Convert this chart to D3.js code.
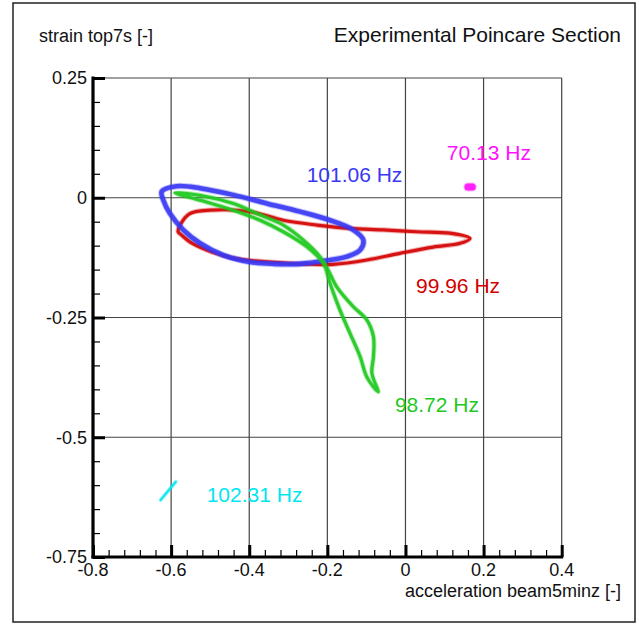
<!DOCTYPE html>
<html>
<head>
<meta charset="utf-8">
<script src="https://cdn.jsdelivr.net/npm/d3@7/dist/d3.min.js"></script>
<style>
  html, body { margin: 0; padding: 0; background: #fff; }
  svg { display: block; }
  text { font-family: "Liberation Sans", Arial, sans-serif; }
</style>
</head>
<body>
<script>
// Poincare section: strain (top7s) against acceleration (beam5minz),
// one trace per excitation frequency.

const xTicks = [-0.8, -0.6, -0.4, -0.2, 0, 0.2, 0.4];
const xTickLabels = ["-0.8", "-0.6", "-0.4", "-0.2", "0", "0.2", "0.4"];
const yTicks = [0.25, 0, -0.25, -0.5, -0.75];
const yTickLabels = ["0.25", "0", "-0.25", "-0.5", "-0.75"];

// 99.96 Hz — wide loop
const red9996 = [
  [-0.577, -0.057], [-0.552, -0.033], [-0.500, -0.026], [-0.398, -0.029],
  [-0.313, -0.047], [-0.227, -0.057], [-0.142, -0.064], [-0.057, -0.067],
  [0.029, -0.071], [0.114, -0.074], [0.165, -0.085], [0.140, -0.095],
  [0.071, -0.103], [-0.014, -0.116], [-0.099, -0.130], [-0.185, -0.139],
  [-0.270, -0.138], [-0.355, -0.134], [-0.441, -0.126], [-0.509, -0.109],
  [-0.552, -0.092], [-0.573, -0.078], [-0.582, -0.071]
];

// 101.06 Hz — tilted loop
const blue10106 = [
  [-0.624, 0.013], [-0.586, 0.024], [-0.526, 0.020], [-0.441, 0.006],
  [-0.355, -0.012], [-0.270, -0.029], [-0.193, -0.047], [-0.134, -0.067],
  [-0.108, -0.088], [-0.116, -0.109], [-0.150, -0.123], [-0.202, -0.131],
  [-0.270, -0.138], [-0.338, -0.138], [-0.398, -0.134], [-0.466, -0.120],
  [-0.526, -0.095], [-0.569, -0.067], [-0.603, -0.033], [-0.620, -0.005]
];

// 98.72 Hz — narrow figure-eight
const green9872 = [
  [-0.070, -0.405], [-0.099, -0.374], [-0.116, -0.332], [-0.142, -0.283],
  [-0.168, -0.234], [-0.193, -0.179], [-0.210, -0.137], [-0.253, -0.102],
  [-0.313, -0.071], [-0.372, -0.047], [-0.441, -0.026], [-0.526, -0.005],
  [-0.590, 0.010], [-0.526, 0.005], [-0.441, -0.012], [-0.372, -0.036],
  [-0.313, -0.057], [-0.262, -0.088], [-0.219, -0.123], [-0.198, -0.151],
  [-0.176, -0.186], [-0.134, -0.227], [-0.099, -0.255], [-0.082, -0.290],
  [-0.082, -0.332], [-0.086, -0.366]
];

// 102.31 Hz — short segment
const cyan10231 = [[-0.627, -0.631], [-0.588, -0.593]];

// 70.13 Hz — single cluster
const magenta7013 = [[0.160, 0.0225], [0.171, 0.0225]];

const series = [
  { name: "99.96 Hz", pts: red9996, color: "#d40000", width: 3.2, closed: true, label: [0.027, -0.199] },
  { name: "101.06 Hz", pts: blue10106, color: "#3838f4", width: 4.6, closed: true, label: [-0.253, 0.033] },
  { name: "98.72 Hz", pts: green9872, color: "#1ec81e", width: 3.2, closed: true, label: [-0.027, -0.447] },
  { name: "102.31 Hz", pts: cyan10231, color: "#00e6f0", width: 2.2, closed: false, label: [-0.509, -0.635] },
  { name: "70.13 Hz", pts: magenta7013, color: "#ff10ff", width: 7, closed: false, label: [0.106, 0.079] }
];

const W = 639, H = 625;
const svg = d3.select("body").append("svg").attr("width", W).attr("height", H);

// outer frame
svg.append("rect")
  .attr("x", 13).attr("y", 3).attr("width", 622).attr("height", 619)
  .attr("fill", "none").attr("stroke", "#222").attr("stroke-width", 1.5);

const x = d3.scaleLinear().domain([-0.8, 0.4]).range([93, 561.7]);
const y = d3.scaleLinear().domain([-0.75, 0.25]).range([557, 78]);

// grid
const grid = svg.append("g").attr("stroke", "#444").attr("stroke-width", 1.2);
grid.selectAll("line.v").data(xTicks.slice(1)).join("line")
  .attr("x1", d => x(d)).attr("x2", d => x(d))
  .attr("y1", y(-0.75)).attr("y2", y(0.25));
grid.selectAll("line.h").data(yTicks.slice(0, -1)).join("line")
  .attr("x1", x(-0.8)).attr("x2", x(0.4))
  .attr("y1", d => y(d)).attr("y2", d => y(d));

// traces
const plot = svg.append("g");
series.forEach(s => {
  const line = d3.line().x(d => x(d[0])).y(d => y(d[1]))
    .curve(s.closed ? d3.curveCatmullRomClosed.alpha(0.5) : d3.curveLinear);
  // soft halo for the scatter spread, then the dense core
  plot.append("path").attr("d", line(s.pts))
    .attr("fill", "none").attr("stroke", s.color)
    .attr("stroke-width", s.width + 2).attr("stroke-opacity", 0.3)
    .attr("stroke-linecap", "round").attr("stroke-linejoin", "round");
  plot.append("path").attr("d", line(s.pts))
    .attr("fill", "none").attr("stroke", s.color)
    .attr("stroke-width", s.width).attr("stroke-opacity", 0.9)
    .attr("stroke-linecap", "round").attr("stroke-linejoin", "round");
});

// frequency labels
svg.append("g").selectAll("text").data(series).join("text")
  .attr("x", d => x(d.label[0])).attr("y", d => y(d.label[1]))
  .attr("fill", d => d.color).attr("font-size", 21)
  .text(d => d.name);

// axes: ticks point into the plot
const xMinor = d3.range(-0.8, 0.4001, 0.04).map(v => +v.toFixed(2));
const yMinor = d3.range(-0.75, 0.2501, 0.05).map(v => +v.toFixed(2));

const xAxisMinor = d3.axisTop(x).tickValues(xMinor).tickSize(7).tickFormat("");
svg.append("g").attr("transform", `translate(0,${y(-0.75)})`).call(xAxisMinor)
  .call(g => g.select(".domain").remove())
  .call(g => g.selectAll("line").attr("stroke", "#000").attr("stroke-width", 1.2));
const xAxisMajor = d3.axisTop(x).tickValues(xTicks).tickSize(12).tickFormat("");
svg.append("g").attr("transform", `translate(0,${y(-0.75)})`).call(xAxisMajor)
  .call(g => g.select(".domain").remove())
  .call(g => g.selectAll("line").attr("stroke", "#000").attr("stroke-width", 3));

const yAxisMinor = d3.axisRight(y).tickValues(yMinor).tickSize(7).tickFormat("");
svg.append("g").attr("transform", `translate(${x(-0.8)},0)`).call(yAxisMinor)
  .call(g => g.select(".domain").remove())
  .call(g => g.selectAll("line").attr("stroke", "#000").attr("stroke-width", 1.2));
const yAxisMajor = d3.axisRight(y).tickValues(yTicks).tickSize(12).tickFormat("");
svg.append("g").attr("transform", `translate(${x(-0.8)},0)`).call(yAxisMajor)
  .call(g => g.select(".domain").remove())
  .call(g => g.selectAll("line").attr("stroke", "#000").attr("stroke-width", 3));

// thick axis lines
svg.append("line").attr("x1", x(-0.8)).attr("x2", x(-0.8))
  .attr("y1", y(0.25) - 1.5).attr("y2", y(-0.75) + 1.5)
  .attr("stroke", "#000").attr("stroke-width", 3.2);
svg.append("line").attr("x1", x(-0.8) - 1.5).attr("x2", x(0.4) + 1.5)
  .attr("y1", y(-0.75)).attr("y2", y(-0.75))
  .attr("stroke", "#000").attr("stroke-width", 3.2);

// tick labels
svg.append("g").selectAll("text").data(xTicks).join("text")
  .attr("x", d => x(d)).attr("y", 576)
  .attr("text-anchor", "middle").attr("font-size", 18).attr("fill", "#111")
  .text((d, i) => xTickLabels[i]);
svg.append("g").selectAll("text").data(yTicks).join("text")
  .attr("x", 87).attr("y", d => y(d)).attr("dy", "0.36em")
  .attr("text-anchor", "end").attr("font-size", 18).attr("fill", "#111")
  .text((d, i) => yTickLabels[i]);

// titles
svg.append("text").attr("x", 39).attr("y", 42).attr("font-size", 18).attr("fill", "#111")
  .text("strain top7s [-]");
svg.append("text").attr("x", 621).attr("y", 42).attr("text-anchor", "end")
  .attr("font-size", 21).attr("fill", "#111").text("Experimental Poincare Section");
svg.append("text").attr("x", 621).attr("y", 597).attr("text-anchor", "end")
  .attr("font-size", 18).attr("fill", "#111").text("acceleration beam5minz [-]");
</script>
</body>
</html>
